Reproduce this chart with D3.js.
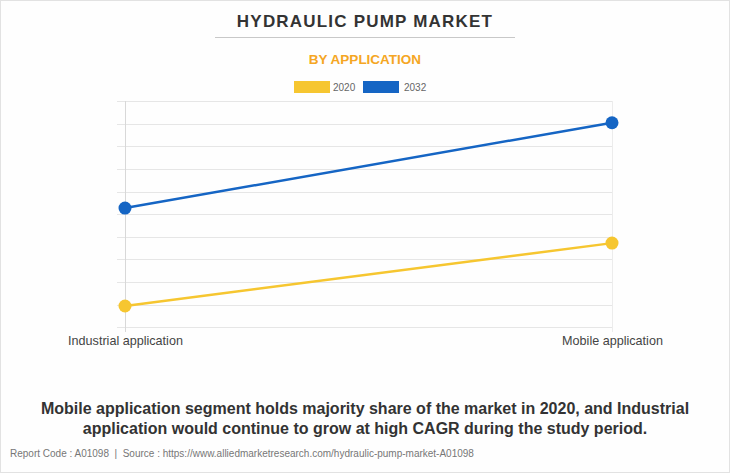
<!DOCTYPE html>
<html><head><meta charset="utf-8">
<script src="https://cdn.jsdelivr.net/npm/d3@7"></script>
<style>
html,body{margin:0;padding:0;background:#fff;}
svg{display:block;font-family:"Liberation Sans",Arial,sans-serif;}
</style></head>
<body>
<svg id="c" width="730" height="473"></svg>
<script>
const categories = ["Industrial application", "Mobile application"];
const seriesNames = ["2020", "2032"];
const values2020 = [0.94, 3.72];
const values2032 = [5.27, 9.04];
const gridTicks = [0,1,2,3,4,5,6,7,8,9,10];
const colors = ["#F6C630", "#1565C4"];

const svg = d3.select("#c");
svg.append("rect").attr("x",0.5).attr("y",0.5).attr("width",729).attr("height",472)
  .attr("fill","#fefefe").attr("stroke","#e2e2e2");

svg.append("text").attr("x",365).attr("y",27).attr("text-anchor","middle")
  .attr("font-size",17).attr("font-weight","bold").attr("fill","#333").attr("letter-spacing","1.2px")
  .text("HYDRAULIC PUMP MARKET");
svg.append("line").attr("x1",215).attr("x2",515).attr("y1",37.5).attr("y2",37.5).attr("stroke","#c8c8c8");
svg.append("text").attr("x",365).attr("y",64).attr("text-anchor","middle")
  .attr("font-size",13.5).attr("font-weight","bold").attr("fill","#F5A623")
  .text("BY APPLICATION");

// legend
const leg = [{x:294,tx:333},{x:363,tx:404}];
seriesNames.forEach((s,i)=>{
  svg.append("rect").attr("x",leg[i].x).attr("y",81).attr("width",36).attr("height",12).attr("fill",colors[i]);
  svg.append("text").attr("x",leg[i].tx).attr("y",91).attr("font-size",10).attr("fill","#666").text(s);
});

const x = d3.scalePoint().domain(categories).range([125,612]);
const y = d3.scaleLinear().domain([0,10]).range([327.3,101]);

const g = svg.append("g");
g.selectAll("line.grid").data(gridTicks).join("line").attr("class","grid")
  .attr("x1",117).attr("x2",612).attr("y1",d=>Math.round(y(d))+0.5).attr("y2",d=>Math.round(y(d))+0.5)
  .attr("stroke","#e6e6e6");
g.append("line").attr("x1",125.5).attr("x2",125.5).attr("y1",101).attr("y2",332).attr("stroke","#d8d8d8");
g.append("line").attr("x1",612.5).attr("x2",612.5).attr("y1",101).attr("y2",332).attr("stroke","#ececec");

const xAxis = d3.axisBottom(x).tickSize(0).tickPadding(5);
const ax = svg.append("g").attr("transform","translate(0,331)").call(xAxis);
ax.select(".domain").remove();
ax.selectAll("text").attr("font-size",12.6).attr("fill","#444").attr("font-family","Liberation Sans, Arial, sans-serif");

const line = d3.line().x((d,i)=>x(categories[i])).y(d=>y(d));
[values2020, values2032].forEach((vals,i)=>{
  svg.append("path").datum(vals).attr("d",line).attr("fill","none").attr("stroke",colors[i]).attr("stroke-width",2.5);
  svg.selectAll(null).data(vals).join("circle")
    .attr("cx",(d,j)=>x(categories[j])).attr("cy",d=>y(d)).attr("r",6.5).attr("fill",colors[i]);
});

svg.append("text").attr("x",365).attr("y",414).attr("text-anchor","middle")
  .attr("font-size",16).attr("font-weight","bold").attr("fill","#333")
  .text("Mobile application segment holds majority share of the market in 2020, and Industrial");
svg.append("text").attr("x",365).attr("y",434).attr("text-anchor","middle")
  .attr("font-size",16).attr("font-weight","bold").attr("fill","#333")
  .text("application would continue to grow at high CAGR during the study period.");
svg.append("text").attr("x",10).attr("y",457).attr("font-size",10).attr("fill","#777")
  .attr("xml:space","preserve").style("white-space","pre")
  .text("Report Code : A01098  |  Source : https://www.alliedmarketresearch.com/hydraulic-pump-market-A01098");
</script>
</body></html>
